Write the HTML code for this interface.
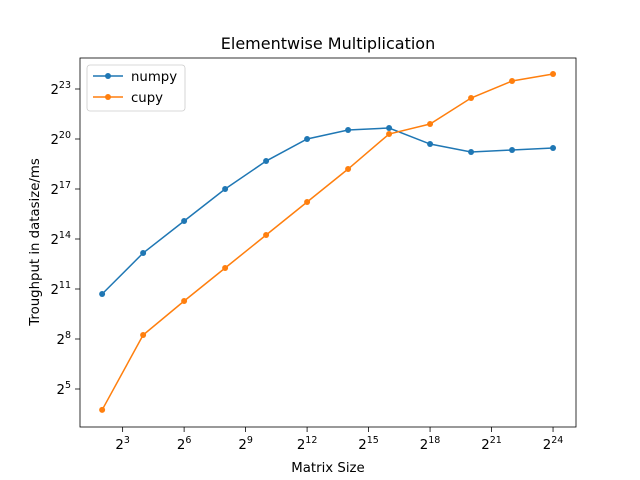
<!DOCTYPE html>
<html><head><meta charset="utf-8"><style>
body{margin:0;background:#fff;}
svg{display:block;font-family:"DejaVu Sans","Liberation Sans",sans-serif;}
</style></head><body>
<svg id="chart" width="640" height="480" viewBox="0 0 640 480" xmlns="http://www.w3.org/2000/svg">
<rect x="0" y="0" width="640" height="480" fill="#fff"/>
<text x="328" y="49" font-size="16" text-anchor="middle">Elementwise Multiplication</text>
<g id="plot"></g>
<rect x="80" y="58" width="496" height="369" fill="none" stroke="#000" stroke-width="0.8"/>
<text x="328" y="472" font-size="13.3" text-anchor="middle">Matrix Size</text>
<text transform="translate(39,242) rotate(-90)" font-size="13.3" text-anchor="middle">Troughput in datasize/ms</text>
<g>
<rect x="87" y="65" width="98" height="46" rx="3" fill="#fff" fill-opacity="0.8" stroke="#ccc" stroke-width="0.8"/>
<line x1="93" y1="76" x2="123" y2="76" stroke="#1f77b4" stroke-width="1.5"/>
<circle cx="108" cy="76" r="3" fill="#1f77b4"/>
<text x="131" y="81" font-size="13.3">numpy</text>
<line x1="93" y1="97" x2="123" y2="97" stroke="#ff7f0e" stroke-width="1.5"/>
<circle cx="108" cy="97" r="3" fill="#ff7f0e"/>
<text x="131" y="102" font-size="13.3">cupy</text>
</g>
</svg>
<script>
const sizes = [4,16,64,256,1024,4096,16384,65536,262144,1048576,4194304,16777216];
const numpy = [1663,9151,34650,131072,419000,1048576,1523000,1655000,851000,610000,663000,721000];
const cupy = [13.4,302,1243,4905,19350,76300,301000,1291000,1956000,5760000,11700000,15650000];
const xTickExps = [3,6,9,12,15,18,21,24];
const yTickExps = [5,8,11,14,17,20,23];

const L=80,R=576,T=58,B=427;
const xMin=0.92,xMax=25.12,yMin=2.72,yMax=24.86;
const xs=v=>L+(Math.log2(v)-xMin)/(xMax-xMin)*(R-L);
const ys=v=>B-(Math.log2(v)-yMin)/(yMax-yMin)*(B-T);
const NS="http://www.w3.org/2000/svg";
const g=document.getElementById('plot');
function mk(tag,attrs){const e=document.createElementNS(NS,tag);for(const k in attrs)e.setAttribute(k,attrs[k]);g.appendChild(e);return e;}

xTickExps.forEach(k=>{
  const x=L+(k-xMin)/(xMax-xMin)*(R-L);
  const t=mk('line',{x1:x,y1:B,x2:x,y2:B+5,stroke:'#000','stroke-width':0.8});
  
  
  const lb=mk('text',{x:x,y:B+22,'font-size':13.3,'text-anchor':'middle'});
  
  
  lb.innerHTML='2<tspan dy="-6" font-size="9.5">'+k+'</tspan>';
});
yTickExps.forEach(k=>{
  const y=B-(k-yMin)/(yMax-yMin)*(B-T);
  const t=mk('line',{x1:L-5,y1:y,x2:L,y2:y,stroke:'#000','stroke-width':0.8});
  
  
  const lb=mk('text',{x:L-9,y:y+5,'font-size':13.3,'text-anchor':'end'});
  
  
  lb.innerHTML='2<tspan dy="-6" font-size="9.5">'+k+'</tspan>';
});

function series(vals,color,name){
  const pts=sizes.map((s,i)=>xs(s)+','+ys(vals[i])).join(' ');
  const p=mk('polyline',{points:pts,fill:'none',stroke:color,'stroke-width':1.5});
  
  
  sizes.forEach((s,i)=>{
    const c=mk('circle',{cx:xs(s),cy:ys(vals[i]),r:3,fill:color});
    
    
  });
}
series(numpy,'#1f77b4','numpy');
series(cupy,'#ff7f0e','cupy');
</script>
</body></html>
